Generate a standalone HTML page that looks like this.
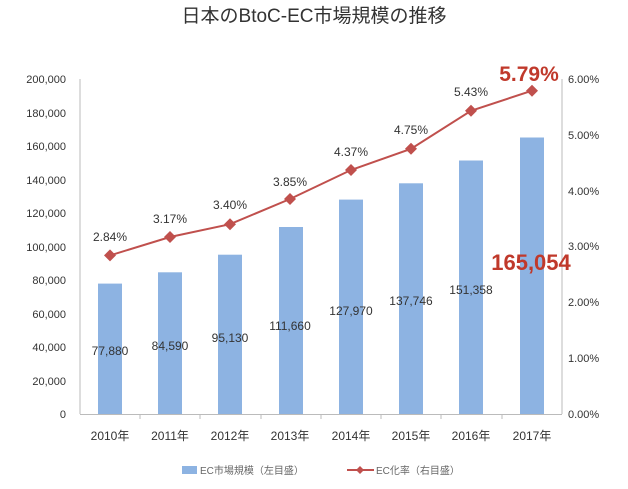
<!DOCTYPE html>
<html><head><meta charset="utf-8"><style>body{margin:0;background:#fff}</style></head><body>
<svg width="628" height="484" xmlns="http://www.w3.org/2000/svg" font-family="'Liberation Sans','Noto Sans CJK JP',sans-serif">
<text x="314" y="22" text-anchor="middle" font-size="19" fill="#333">日本のBtoC-EC市場規模の推移</text>
<g font-size="11" fill="#333" text-anchor="end">
<text x="66" y="418">0</text><text x="66" y="385">20,000</text><text x="66" y="351">40,000</text><text x="66" y="318">60,000</text><text x="66" y="284">80,000</text><text x="66" y="251">100,000</text><text x="66" y="217">120,000</text><text x="66" y="184">140,000</text><text x="66" y="150">160,000</text><text x="66" y="117">180,000</text><text x="66" y="83">200,000</text>
</g>
<g font-size="11" fill="#333">
<text x="568" y="418">0.00%</text><text x="568" y="362">1.00%</text><text x="568" y="306">2.00%</text><text x="568" y="250">3.00%</text><text x="568" y="195">4.00%</text><text x="568" y="139">5.00%</text><text x="568" y="83">6.00%</text>
</g>
<g stroke="#bbb" stroke-width="1">
<line x1="80" y1="79" x2="80" y2="414"/><line x1="562" y1="79" x2="562" y2="414"/><line x1="80" y1="414.5" x2="562" y2="414.5"/>
<line x1="140" y1="414" x2="140" y2="419"/><line x1="200" y1="414" x2="200" y2="419"/><line x1="261" y1="414" x2="261" y2="419"/><line x1="321" y1="414" x2="321" y2="419"/><line x1="381" y1="414" x2="381" y2="419"/><line x1="441" y1="414" x2="441" y2="419"/><line x1="502" y1="414" x2="502" y2="419"/>
</g>
<g fill="#8db3e2">
<rect x="98" y="283.6" width="24" height="130.4"/>
<rect x="158" y="272.3" width="24" height="141.7"/>
<rect x="218" y="254.7" width="24" height="159.3"/>
<rect x="279" y="227" width="24" height="187"/>
<rect x="339" y="199.6" width="24" height="214.4"/>
<rect x="399" y="183.3" width="24" height="230.7"/>
<rect x="459" y="160.5" width="24" height="253.5"/>
<rect x="520" y="137.5" width="24" height="276.5"/>
</g>
<g font-size="12" fill="#333" text-anchor="middle">
<text x="110" y="355">77,880</text><text x="170" y="350">84,590</text><text x="230" y="342">95,130</text><text x="290" y="330">111,660</text><text x="351" y="315">127,970</text><text x="411" y="305">137,746</text><text x="471" y="294">151,358</text>
</g>
<polyline fill="none" stroke="#c0504d" stroke-width="2" points="110,255.4 170,237 230,224.2 290,199 351,170 411,148.8 471,110.8 532,90.7"/>
<g fill="#c0504d">
<path d="M110 249.4l6 6-6 6-6-6z"/><path d="M170 231l6 6-6 6-6-6z"/><path d="M230 218.2l6 6-6 6-6-6z"/><path d="M290 193l6 6-6 6-6-6z"/><path d="M351 164l6 6-6 6-6-6z"/><path d="M411 142.8l6 6-6 6-6-6z"/><path d="M471 104.8l6 6-6 6-6-6z"/><path d="M532 84.7l6 6-6 6-6-6z"/>
</g>
<g font-size="12" fill="#333" text-anchor="middle">
<text x="110" y="241">2.84%</text><text x="170" y="223">3.17%</text><text x="230" y="209">3.40%</text><text x="290" y="186">3.85%</text><text x="351" y="156">4.37%</text><text x="411" y="134">4.75%</text><text x="471" y="96">5.43%</text>
</g>
<text x="529" y="81" text-anchor="middle" font-size="21" font-weight="bold" fill="#c0392b">5.79%</text>
<text x="531" y="270" text-anchor="middle" font-size="22" font-weight="bold" fill="#c0392b">165,054</text>
<g font-size="12" fill="#333" text-anchor="middle">
<text x="110" y="440">2010年</text><text x="170" y="440">2011年</text><text x="230" y="440">2012年</text><text x="290" y="440">2013年</text><text x="351" y="440">2014年</text><text x="411" y="440">2015年</text><text x="471" y="440">2016年</text><text x="532" y="440">2017年</text>
</g>
<rect x="182" y="466" width="15" height="8" fill="#8db3e2"/>
<text x="200" y="474" font-size="10" fill="#666">EC市場規模（左目盛）</text>
<line x1="347" y1="470" x2="374" y2="470" stroke="#c0504d" stroke-width="2"/>
<path d="M360 466l4 4-4 4-4-4z" fill="#c0504d"/>
<text x="376" y="474" font-size="10" fill="#666">EC化率（右目盛）</text>
</svg>
</body></html>
